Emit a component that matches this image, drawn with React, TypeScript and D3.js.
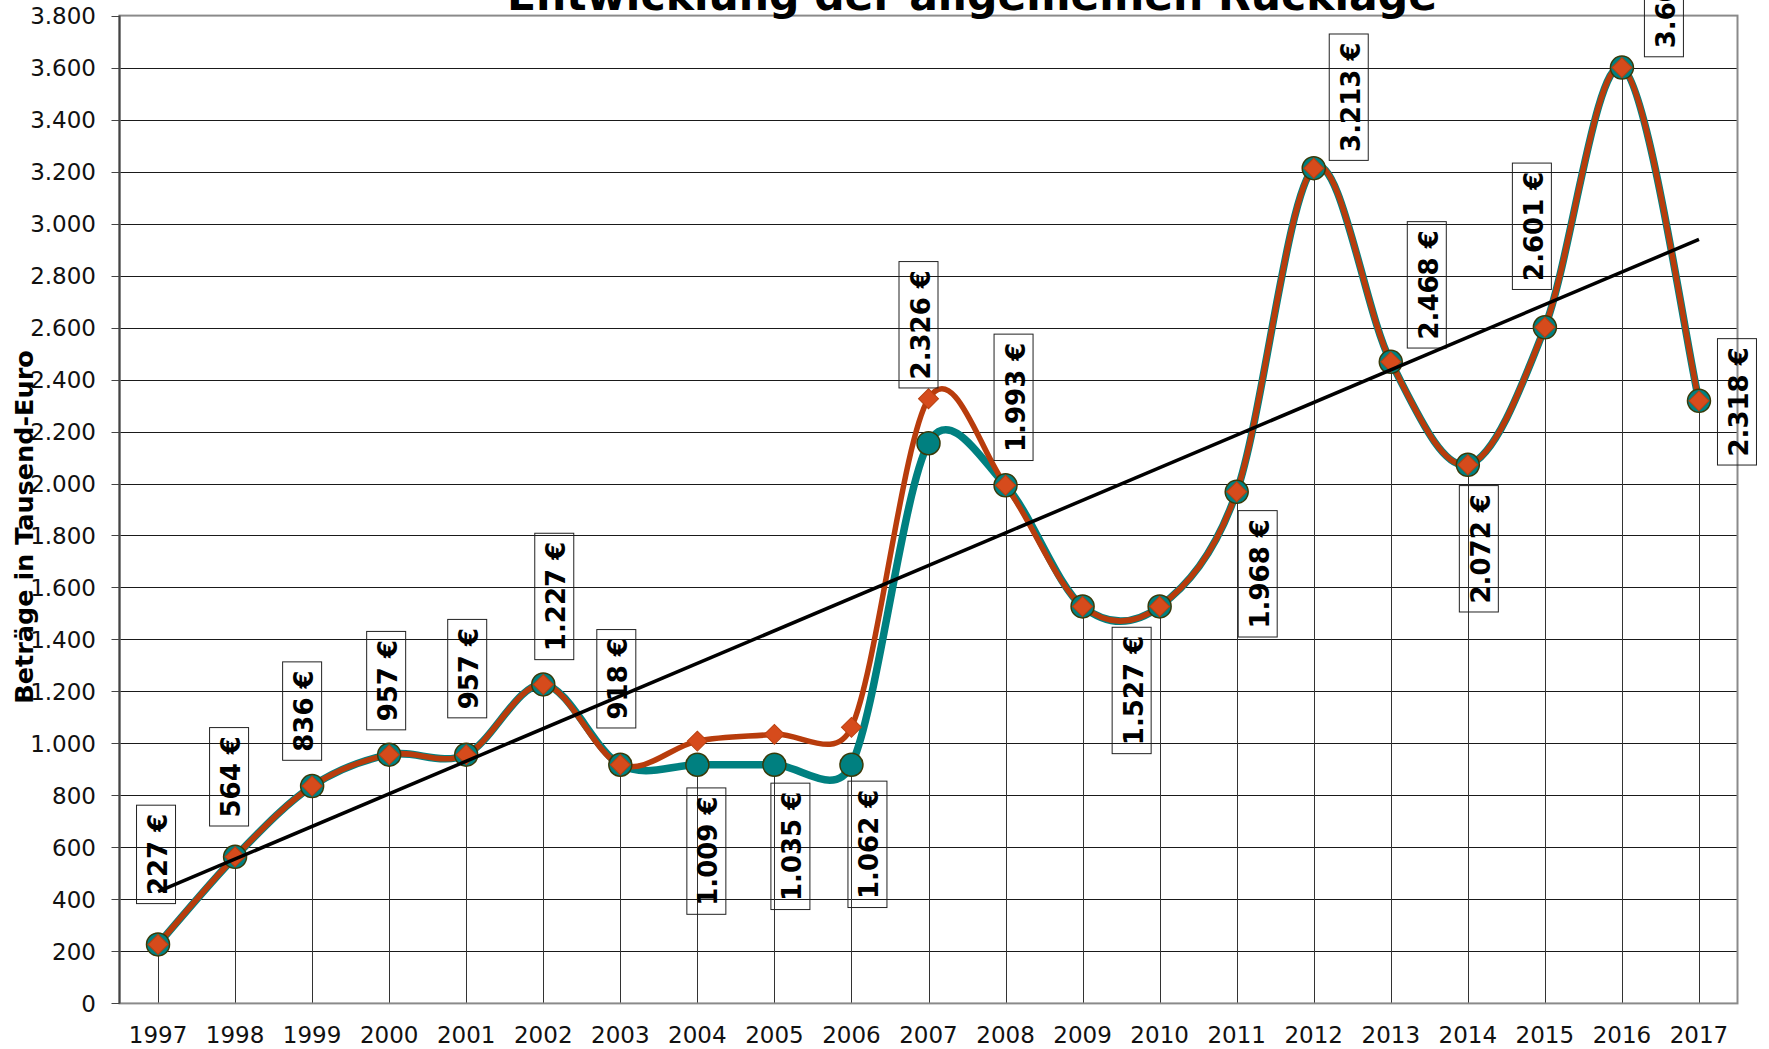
import React, { useEffect, useRef } from "react";
import * as d3 from "d3";

const years = [
  "1997", "1998", "1999", "2000", "2001", "2002", "2003", "2004", "2005", "2006", "2007",
  "2008", "2009", "2010", "2011", "2012", "2013", "2014", "2015", "2016", "2017",
];
// teal series (circles)
const bestand = [
  227, 564, 836, 957, 957, 1227, 918, 918, 918, 918, 2155,
  1993, 1527, 1527, 1968, 3213, 2468, 2072, 2601, 3600, 2318,
];
// orange series (diamonds), labelled
const ruecklage = [
  227, 564, 836, 957, 957, 1227, 918, 1009, 1035, 1062, 2326,
  1993, 1527, 1527, 1968, 3213, 2468, 2072, 2601, 3600, 2318,
];
const yTicks = [0, 200, 400, 600, 800, 1000, 1200, 1400, 1600, 1800, 2000, 2200, 2400, 2600, 2800, 3000, 3200, 3400, 3600, 3800];
// trend line end values
const trendFrom = 430;
const trendTo = 2939;

// hand placed label boxes in the original: offset of box centre from the point (px)
const labelOffsets: ([number, number] | null)[] = [
  [-2, -90], [-6, -80], [-10, -75], [-3, -74], [1, -86], [11, -88], [-4, -86],
  [9, 110], [16, 112], [16, 117], [-10, -74], [8, -88], null, [-28, 84],
  [21, 82], [35, -71], [36, -77], [11, 84], [-13, -101], [42, -74], [38, 1],
];

const W = 1769;
const H = 1049;
const FONT = "'DejaVu Sans', Verdana, sans-serif";

const de = d3.formatLocale({ decimal: ",", thousands: ".", grouping: [3], currency: ["", " €"] });
const fmt = de.format(",");

// spreadsheet style smoothing: catmull-rom tangents, arms clamped to half the neighbouring segment
function smoothCurve(context: any) {
  let pts: [number, number][] = [];
  const arm = (p: [number, number], vx: number, vy: number, seg: number, sign: number) => {
    const len = Math.hypot(vx, vy);
    const k = len > seg * 0.5 && len > 0 ? (seg * 0.5) / len : 1;
    return [p[0] + sign * vx * k, p[1] + sign * vy * k];
  };
  return {
    areaStart() {},
    areaEnd() {},
    lineStart() {
      pts = [];
    },
    point(x: number, y: number) {
      pts.push([+x, +y]);
    },
    lineEnd() {
      const n = pts.length;
      if (!n) return;
      context.moveTo(pts[0][0], pts[0][1]);
      for (let i = 0; i < n - 1; i++) {
        const p0 = pts[Math.max(i - 1, 0)];
        const p1 = pts[i];
        const p2 = pts[i + 1];
        const p3 = pts[Math.min(i + 2, n - 1)];
        const seg = Math.hypot(p2[0] - p1[0], p2[1] - p1[1]);
        const c1 = arm(p1, (p2[0] - p0[0]) / 6, (p2[1] - p0[1]) / 6, seg, 1);
        const c2 = arm(p2, (p3[0] - p1[0]) / 6, (p3[1] - p1[1]) / 6, seg, -1);
        context.bezierCurveTo(c1[0], c1[1], c2[0], c2[1], p2[0], p2[1]);
      }
    },
  };
}

export default function App() {
  const ref = useRef<SVGSVGElement | null>(null);

  useEffect(() => {
    const svg = d3.select(ref.current);
    svg.selectAll("*").remove();

    const left = 119.5, right = 1737.5, top = 15.6, bottom = 1003.4;

    const x = d3.scaleBand().domain(years).range([left, right]);
    const cx = (d: string) => (x(d) as number) + x.bandwidth() / 2;
    const y = d3.scaleLinear().domain([0, 3800]).range([bottom, top]);

    svg.append("rect").attr("width", W).attr("height", H).attr("fill", "#fff");

    // grid
    svg
      .append("g")
      .selectAll("line")
      .data(yTicks.filter((t) => t > 0 && t < 3800))
      .join("line")
      .attr("x1", left)
      .attr("x2", right)
      .attr("y1", (d) => Math.round(y(d)) + 0.5)
      .attr("y2", (d) => Math.round(y(d)) + 0.5)
      .attr("stroke", "#1a1a1a")
      .attr("stroke-width", 1);

    // drop lines
    svg
      .append("g")
      .selectAll("line")
      .data(years)
      .join("line")
      .attr("x1", (d) => Math.round(cx(d)) + 0.5)
      .attr("x2", (d) => Math.round(cx(d)) + 0.5)
      .attr("y1", (d, i) => y(bestand[i]))
      .attr("y2", bottom)
      .attr("stroke", "#333")
      .attr("stroke-width", 1);

    // frame
    svg
      .append("rect")
      .attr("x", left)
      .attr("y", top)
      .attr("width", right - left)
      .attr("height", bottom - top)
      .attr("fill", "none")
      .attr("stroke", "#8a8a8a")
      .attr("stroke-width", 2);
    svg
      .append("line")
      .attr("x1", left)
      .attr("x2", left)
      .attr("y1", top)
      .attr("y2", bottom)
      .attr("stroke", "#444")
      .attr("stroke-width", 2);

    // y axis
    const yAxis = svg.append("g").attr("font-family", FONT).attr("font-size", 23);
    yTicks.forEach((t) => {
      yAxis
        .append("line")
        .attr("x1", left - 8)
        .attr("x2", left)
        .attr("y1", Math.round(y(t)) + 0.5)
        .attr("y2", Math.round(y(t)) + 0.5)
        .attr("stroke", "#444");
      yAxis
        .append("text")
        .attr("x", 96)
        .attr("y", y(t) + 8.3)
        .attr("text-anchor", "end")
        .attr("fill", "#111")
        .text(fmt(t));
    });

    // x axis labels
    svg
      .append("g")
      .attr("font-family", FONT)
      .attr("font-size", 23)
      .selectAll("text")
      .data(years)
      .join("text")
      .attr("x", cx)
      .attr("y", 1043)
      .attr("text-anchor", "middle")
      .attr("fill", "#111")
      .text((d) => d);

    // axis title
    svg
      .append("text")
      .attr("transform", `translate(33,527) rotate(-90)`)
      .attr("text-anchor", "middle")
      .attr("font-family", FONT)
      .attr("font-weight", "bold")
      .attr("font-size", 25.5)
      .text("Beträge in Tausend-Euro");

    // chart title
    svg
      .append("text")
      .attr("x", 972)
      .attr("y", 10)
      .attr("text-anchor", "middle")
      .attr("font-family", FONT)
      .attr("font-weight", "bold")
      .attr("font-size", 42.5)
      .text("Entwicklung der allgemeinen Rücklage");

    // series lines
    const line = d3
      .line<number>()
      .x((d, i) => cx(years[i]))
      .y((d) => y(d))
      .curve(smoothCurve as any);

    svg
      .append("path")
      .datum(bestand)
      .attr("fill", "none")
      .attr("stroke", "#008080")
      .attr("stroke-width", 7.5)
      .attr("d", line);
    svg
      .append("path")
      .datum(ruecklage)
      .attr("fill", "none")
      .attr("stroke", "#b83c0c")
      .attr("stroke-width", 5.5)
      .attr("d", line);

    // markers
    svg
      .append("g")
      .selectAll("circle")
      .data(bestand)
      .join("circle")
      .attr("cx", (d, i) => cx(years[i]))
      .attr("cy", (d) => y(d))
      .attr("r", 11.5)
      .attr("fill", "#008080")
      .attr("stroke", "#3a3a08")
      .attr("stroke-width", 1.5);

    const diamond = d3.symbol().type(d3.symbolSquare).size(200);
    svg
      .append("g")
      .selectAll("path")
      .data(ruecklage)
      .join("path")
      .attr("transform", (d, i) => `translate(${cx(years[i])},${y(d)}) rotate(45)`)
      .attr("d", diamond)
      .attr("fill", "#d64b1c")
      .attr("stroke", "#b8400f")
      .attr("stroke-width", 1);

    // data labels
    const labels = svg.append("g").attr("font-family", FONT).attr("font-weight", "bold").attr("font-size", 26);
    ruecklage.forEach((v, i) => {
      const off = labelOffsets[i];
      if (!off) return;
      const g = labels
        .append("g")
        .attr("transform", `translate(${cx(years[i]) + off[0]},${y(v) + off[1]}) rotate(-90)`);
      const t = g
        .append("text")
        .attr("x", 0)
        .attr("y", 11)
        .attr("text-anchor", "middle")
        .attr("fill", "#000")
        .text(fmt(v) + " €");
      const len = (t.node() as SVGTextElement).getComputedTextLength();
      g.insert("rect", "text")
        .attr("x", -len / 2 - 8.5)
        .attr("y", -19.5)
        .attr("width", len + 17)
        .attr("height", 39)
        .attr("fill", "none")
        .attr("stroke", "#222")
        .attr("stroke-width", 1);
    });

    // trend line
    svg
      .append("line")
      .attr("x1", cx(years[0]))
      .attr("y1", y(trendFrom))
      .attr("x2", cx(years[years.length - 1]))
      .attr("y2", y(trendTo))
      .attr("stroke", "#000")
      .attr("stroke-width", 3.5);
  }, []);

  return (
    <div style={{ position: "absolute", left: 0, top: 0 }}>
      <svg ref={ref} width={W} height={H} style={{ display: "block" }} />
    </div>
  );
}
